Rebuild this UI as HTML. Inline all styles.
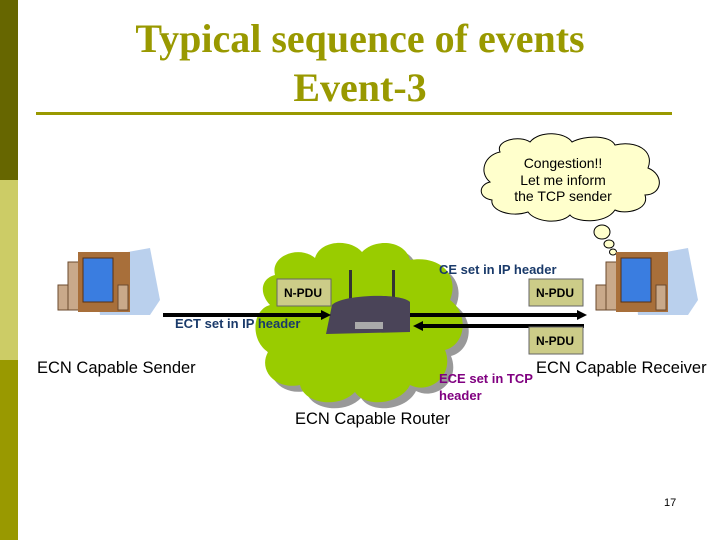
<!DOCTYPE html>
<html><head><meta charset="utf-8"><style>
body{margin:0;width:720px;height:540px;overflow:hidden;background:#fff;font-family:"Liberation Sans",sans-serif}
</style></head><body>
<svg width="720" height="540" viewBox="0 0 720 540" xmlns="http://www.w3.org/2000/svg">
<rect x="0" y="0" width="18" height="180" fill="#666600"/>
<rect x="0" y="180" width="18" height="180" fill="#cccc66"/>
<rect x="0" y="360" width="18" height="180" fill="#999900"/>
<g font-family="Liberation Serif,serif" font-weight="bold" font-size="40" fill="#999900" text-anchor="middle">
<text x="360" y="52">Typical sequence of events</text>
<text x="360" y="101">Event-3</text>
</g>
<rect x="36" y="112" width="636" height="3" fill="#999900"/>
<!-- router cloud -->
<g>
<path fill="#999" transform="translate(6,6)" d="M275,275 C270,255 300,245 315,258 C320,240 350,238 362,252 C375,238 405,240 410,260 C440,255 460,275 450,300 C470,315 465,345 445,350 C455,375 430,395 410,385 C400,405 365,408 355,392 C340,408 305,405 300,385 C275,390 258,370 268,352 C250,340 252,310 270,305 C258,292 262,278 275,275 Z"/>
<path fill="#99cc00" d="M275,275 C270,255 300,245 315,258 C320,240 350,238 362,252 C375,238 405,240 410,260 C440,255 460,275 450,300 C470,315 465,345 445,350 C455,375 430,395 410,385 C400,405 365,408 355,392 C340,408 305,405 300,385 C275,390 258,370 268,352 C250,340 252,310 270,305 C258,292 262,278 275,275 Z"/>
</g>
<!-- thought cloud -->
<path fill="#ffffcc" stroke="#000" stroke-width="1" d="M500,152 C495,140 520,135 530,142 C540,130 565,132 572,142 C585,135 610,135 615,145 C635,140 655,150 648,168 C665,175 662,195 645,195 C650,210 625,215 615,210 C605,225 575,222 570,215 C560,225 535,222 528,212 C510,218 490,210 492,200 C478,198 478,185 490,182 C478,172 485,155 500,152 Z"/>
<ellipse cx="602" cy="232" rx="8" ry="7" fill="#ffffcc" stroke="#000"/>
<ellipse cx="609" cy="244" rx="5" ry="4" fill="#ffffcc" stroke="#000"/>
<ellipse cx="613" cy="252" rx="3.5" ry="3" fill="#ffffcc" stroke="#000"/>
<g font-size="14" text-anchor="middle" fill="#000">
<text x="563" y="168">Congestion!!</text>
<text x="563" y="185">Let me inform</text>
<text x="563" y="201">the TCP sender</text>
</g>
<!-- computers -->
<g id="pc">
<path d="M95,258 L150,248 L160,300 L150,315 L100,315 Z" fill="#a9c4e8" opacity="0.8"/>
<rect x="68" y="262" width="14" height="48" fill="#c9a98a" stroke="#6b4a2e"/>
<rect x="78" y="252" width="52" height="60" fill="#a86f3a"/>
<rect x="83" y="258" width="30" height="44" fill="#3a7de0" stroke="#5a3010"/>
<rect x="58" y="285" width="10" height="25" fill="#c9a98a" stroke="#6b4a2e"/>
<rect x="118" y="285" width="10" height="25" fill="#c9a98a" stroke="#6b4a2e"/>
</g>
<use href="#pc" transform="translate(538,0)"/>
<!-- router -->
<rect x="349" y="270" width="3" height="30" fill="#333"/>
<rect x="392" y="270" width="3" height="30" fill="#333"/>
<path d="M332,305 C340,295 400,292 410,302 L410,332 L326,334 Z" fill="#4a4458"/>
<rect x="355" y="322" width="28" height="7" fill="#aaa"/>
<!-- arrows -->
<g stroke="#000" stroke-width="4">
<line x1="163" y1="315" x2="324" y2="315"/>
<line x1="410" y1="315" x2="580" y2="315"/>
<line x1="420" y1="326" x2="584" y2="326"/>
</g>
<polygon points="331,315 321,310 321,320"/>
<polygon points="587,315 577,310 577,320"/>
<polygon points="413,326 423,321 423,331"/>
<!-- N-PDU boxes -->
<g font-size="12" font-weight="bold" text-anchor="middle">
<rect x="277" y="279" width="54" height="27" fill="#cccc88" stroke="#666" stroke-width="1"/>
<text x="303" y="297">N-PDU</text>
<rect x="529" y="279" width="54" height="27" fill="#cccc88" stroke="#666"/>
<text x="555" y="297">N-PDU</text>
<rect x="529" y="327" width="54" height="27" fill="#cccc88" stroke="#666"/>
<text x="555" y="345">N-PDU</text>
</g>
<g font-size="13" font-weight="bold">
<text x="175" y="328" fill="#1a3a6a">ECT set in IP header</text>
<text x="439" y="274" fill="#1a3a6a">CE set in IP header</text>
<text x="439" y="383" fill="#800080">ECE set in TCP</text>
<text x="439" y="400" fill="#800080">header</text>
</g>
<g font-size="16.5" fill="#000">
<text x="37" y="373">ECN Capable Sender</text>
<text x="536" y="373">ECN Capable Receiver</text>
<text x="295" y="424">ECN Capable Router</text>
</g>
<text x="664" y="506" font-size="11">17</text>
</svg>
</body></html>
